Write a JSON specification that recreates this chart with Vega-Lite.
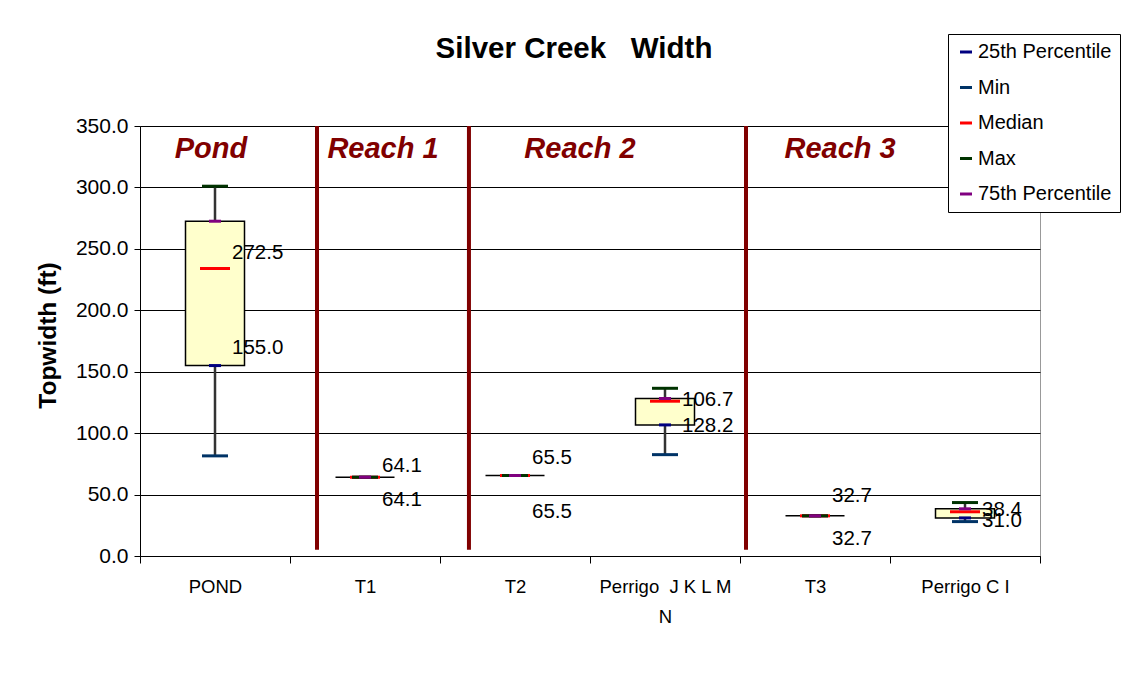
{
  "$schema": "https://vega.github.io/schema/vega-lite/v6.json",
  "width": 900,
  "height": 430,
  "autosize": {"type": "none"},
  "padding": {"left": 140, "top": 126, "right": 90, "bottom": 138},
  "background": "white",
  "config": {
    "font": "Liberation Sans",
    "view": {"stroke": "#999999", "strokeWidth": 1}
  },
  "title": {
    "text": "Silver Creek \u00a0 Width",
    "fontSize": 29.5,
    "fontWeight": "bold",
    "font": "Liberation Sans",
    "color": "black",
    "anchor": "middle",
    "frame": "group",
    "dx": -16,
    "offset": 0,
    "dy": 54,
    "baseline": "alphabetic"
  },
  "datasets": {
    "stats": [
      {"site": "POND", "Min": 81.5, "25th Percentile": 155.0, "Median": 234.0, "75th Percentile": 272.5, "Max": 301.0, "upper_label": "272.5", "upper_label_at": 246.4, "lower_label": "155.0", "lower_label_at": 169.7},
      {"site": "T1", "Min": 64.1, "25th Percentile": 64.1, "Median": 64.1, "75th Percentile": 64.1, "Max": 64.1, "upper_label": "64.1", "upper_label_at": 73.0, "lower_label": "64.1", "lower_label_at": 45.6},
      {"site": "T2", "Min": 65.5, "25th Percentile": 65.5, "Median": 65.5, "75th Percentile": 65.5, "Max": 65.5, "upper_label": "65.5", "upper_label_at": 79.5, "lower_label": "65.5", "lower_label_at": 36.1},
      {"site": "Perrigo  J K L M N", "Min": 82.5, "25th Percentile": 106.7, "Median": 126.0, "75th Percentile": 128.2, "Max": 136.5, "upper_label": "106.7", "upper_label_at": 126.7, "lower_label": "128.2", "lower_label_at": 106.0},
      {"site": "T3", "Min": 32.7, "25th Percentile": 32.7, "Median": 32.7, "75th Percentile": 32.7, "Max": 32.7, "upper_label": "32.7", "upper_label_at": 48.8, "lower_label": "32.7", "lower_label_at": 13.8},
      {"site": "Perrigo C I", "Min": 28.0, "25th Percentile": 31.0, "Median": 36.0, "75th Percentile": 38.4, "Max": 43.5, "upper_label": "38.4", "upper_label_at": 37.2, "lower_label": "31.0", "lower_label_at": 28.5}
    ],
    "reaches": [
      {"reach": "Pond", "label_pos": 0.473},
      {"reach": "Reach 1", "label_pos": 1.62, "start": 1.18},
      {"reach": "Reach 2", "label_pos": 2.933, "start": 2.193},
      {"reach": "Reach 3", "label_pos": 4.667, "start": 4.04}
    ]
  },
  "layer": [
    {
      "data": {"name": "stats"},
      "encoding": {
        "x": {
          "field": "site",
          "type": "nominal",
          "sort": null,
          "scale": {"paddingInner": 0, "paddingOuter": 0},
          "axis": {
            "title": null,
            "labelAngle": 0,
            "labelFont": "Liberation Sans",
            "labelFontSize": 18.5,
            "labelColor": "black",
            "labelBaseline": "top",
            "labelLineHeight": 30,
            "labelPadding": 14,
            "tickBand": "extent",
            "tickSize": 7,
            "tickColor": "black",
            "domainColor": "black",
            "grid": false,
            "labelExpr": "datum.value == 'Perrigo  J K L M N' ? ['Perrigo\u00a0\u00a0J K L M', 'N'] : datum.label"
          }
        }
      },
      "layer": [
        {
          "mark": {"type": "rule", "color": "#333333", "strokeWidth": 2.5},
          "encoding": {
            "y": {
              "field": "Min",
              "type": "quantitative",
              "scale": {"domain": [0, 350], "nice": false},
              "title": "Topwidth (ft)",
              "axis": {
                "values": [0, 50, 100, 150, 200, 250, 300, 350],
                "format": ".1f",
                "grid": true,
                "gridColor": "black",
                "gridWidth": 1,
                "gridOpacity": 1,
                "domainColor": "black",
                "tickColor": "black",
                "tickSize": 6,
                "labelPadding": 6,
                "labelFont": "Liberation Sans",
                "labelFontSize": 21,
                "labelColor": "black",
                "titleFont": "Liberation Sans",
                "titleFontSize": 24.5,
                "titleFontWeight": "bold",
                "titleColor": "black",
                "titleAngle": 270,
                "titleX": -92,
                "titleY": 209,
                "titleAlign": "center",
                "titleBaseline": "middle"
              }
            },
            "y2": {"field": "Max"}
          }
        },
        {
          "mark": {"type": "bar", "width": 59, "fill": "#FFFFCC", "stroke": "black", "strokeWidth": 1.5},
          "encoding": {
            "y": {"field": "25th Percentile", "type": "quantitative", "title": "Topwidth (ft)"},
            "y2": {"field": "75th Percentile"}
          }
        },
        {
          "transform": [
            {"fold": ["Min", "25th Percentile", "Median", "Max", "75th Percentile"], "as": ["stat", "value"]}
          ],
          "encoding": {
            "y": {"field": "value", "type": "quantitative", "title": "Topwidth (ft)"},
            "color": {
              "field": "stat",
              "type": "nominal",
              "scale": {
                "domain": ["25th Percentile", "Min", "Median", "Max", "75th Percentile"],
                "range": ["#000080", "#003366", "#FF0000", "#003300", "#800080"]
              },
              "legend": {
                "title": null,
                "orient": "none",
                "legendX": 808,
                "legendY": -92,
                "symbolType": "M-1,-0.25H1V0.25H-1Z",
                "symbolSize": 144,
                "symbolStrokeWidth": 0,
                "symbolOpacity": 1,
                "labelFont": "Liberation Sans",
                "labelFontSize": 20,
                "labelColor": "black",
                "labelOffset": 2,
                "padding": 8,
                "rowPadding": 15.5,
                "strokeColor": "black",
                "fillColor": "white"
              }
            }
          },
          "layer": [
            {"transform": [{"filter": "datum.stat == 'Min'"}], "mark": {"type": "tick", "thickness": 3, "size": 26, "opacity": 1}},
            {"transform": [{"filter": "datum.stat == '25th Percentile'"}], "mark": {"type": "tick", "thickness": 3, "size": 12, "opacity": 1}},
            {"transform": [{"filter": "datum.stat == 'Median'"}], "mark": {"type": "tick", "thickness": 3, "size": 30, "opacity": 1}},
            {"transform": [{"filter": "datum.stat == 'Max'"}], "mark": {"type": "tick", "thickness": 3, "size": 26, "opacity": 1}},
            {"transform": [{"filter": "datum.stat == '75th Percentile'"}], "mark": {"type": "tick", "thickness": 3, "size": 12, "opacity": 1}}
          ]
        },
        {
          "mark": {"type": "text", "align": "left", "baseline": "middle", "dx": 17, "fontSize": 20.5, "font": "Liberation Sans", "color": "black"},
          "encoding": {
            "y": {"field": "upper_label_at", "type": "quantitative", "title": "Topwidth (ft)"},
            "text": {"field": "upper_label"}
          }
        },
        {
          "mark": {"type": "text", "align": "left", "baseline": "middle", "dx": 17, "fontSize": 20.5, "font": "Liberation Sans", "color": "black"},
          "encoding": {
            "y": {"field": "lower_label_at", "type": "quantitative", "title": "Topwidth (ft)"},
            "text": {"field": "lower_label"}
          }
        }
      ]
    },
    {
      "data": {"name": "reaches"},
      "layer": [
        {
          "transform": [{"filter": "datum.start != null"}],
          "mark": {"type": "rule", "color": "#800000", "strokeWidth": 4},
          "encoding": {
            "x": {"field": "start", "type": "quantitative", "scale": {"domain": [0, 6], "nice": false, "zero": false}, "axis": null},
            "y": {"datum": 5, "type": "quantitative", "title": "Topwidth (ft)"},
            "y2": {"datum": 350}
          }
        },
        {
          "mark": {"type": "text", "align": "center", "baseline": "alphabetic", "fontSize": 29, "fontWeight": "bold", "fontStyle": "italic", "font": "Liberation Sans", "color": "#800000"},
          "encoding": {
            "x": {"field": "label_pos", "type": "quantitative", "scale": {"domain": [0, 6], "nice": false, "zero": false}, "axis": null},
            "y": {"datum": 324, "type": "quantitative", "title": "Topwidth (ft)"},
            "text": {"field": "reach"}
          }
        }
      ]
    }
  ],
  "resolve": {"scale": {"x": "independent"}, "axis": {"x": "independent"}}
}
